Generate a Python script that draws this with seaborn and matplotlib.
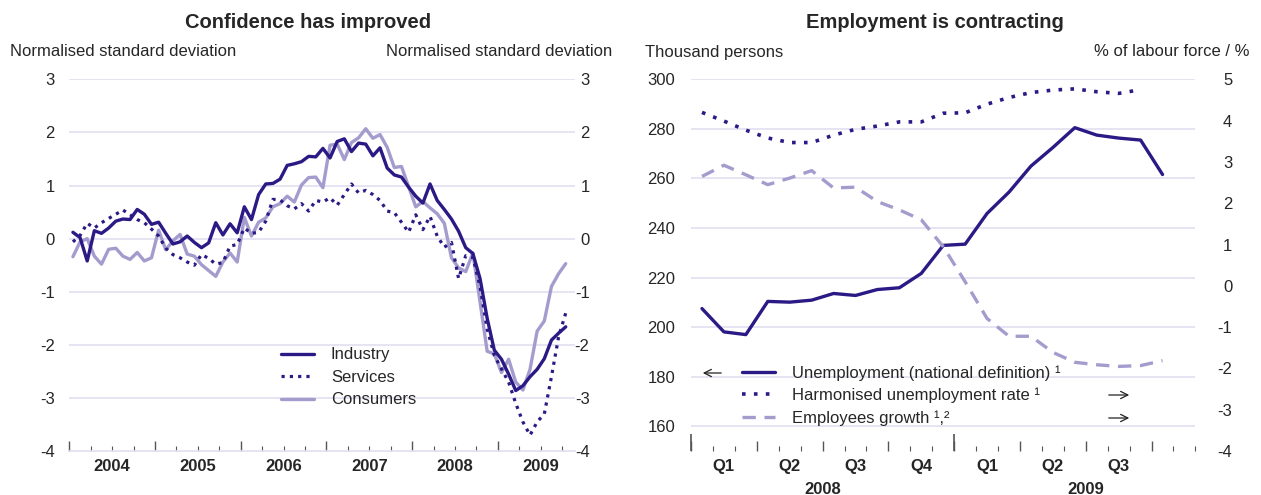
import numpy as np
import pandas as pd
import matplotlib
matplotlib.use("Agg")
import matplotlib.pyplot as plt
import seaborn as sns

# ---------------------------------------------------------------
# Datos: confianza (mensual, ene-2004 a oct-2009)
# ---------------------------------------------------------------
industry = [0.12, 0.02, -0.42, 0.15, 0.10, 0.20, 0.33, 0.37, 0.36, 0.55,
            0.46, 0.27, 0.31, 0.10, -0.10, -0.06, 0.05, -0.07, -0.17, -0.08,
            0.30, 0.07, 0.28, 0.11, 0.60, 0.36, 0.83, 1.03, 1.04, 1.12,
            1.38, 1.41, 1.45, 1.55, 1.54, 1.70, 1.52, 1.83, 1.88, 1.64,
            1.80, 1.78, 1.56, 1.71, 1.33, 1.20, 1.16, 0.97, 0.80, 0.67,
            1.03, 0.72, 0.55, 0.37, 0.14, -0.17, -0.28, -0.75, -1.50, -2.10,
            -2.27, -2.55, -2.86, -2.77, -2.60, -2.46, -2.26, -1.91, -1.78, -1.66]
services = [-0.06, 0.06, 0.29, 0.20, 0.30, 0.38, 0.46, 0.54, 0.45, 0.36,
            0.30, 0.18, 0.05, -0.18, -0.30, -0.36, -0.44, -0.50, -0.30, -0.37,
            -0.48, -0.45, -0.14, -0.11, 0.20, 0.10, 0.12, 0.33, 0.74, 0.73,
            0.62, 0.56, 0.66, 0.52, 0.72, 0.69, 0.77, 0.63, 0.83, 1.03,
            0.86, 0.91, 0.83, 0.72, 0.52, 0.49, 0.31, 0.12, 0.45, 0.17,
            0.42, 0.05, -0.16, -0.07, -0.75, -0.32, -0.35, -0.90, -1.70, -2.20,
            -2.45, -2.70, -3.10, -3.45, -3.70, -3.45, -3.30, -2.60, -1.85, -1.40]
consumers = [-0.34, -0.06, 0.00, -0.33, -0.48, -0.20, -0.18, -0.33, -0.39, -0.26,
             -0.42, -0.36, 0.16, -0.21, -0.04, 0.08, -0.29, -0.33, -0.49, -0.60,
             -0.71, -0.44, -0.27, -0.44, 0.40, 0.05, 0.31, 0.39, 0.60, 0.66,
             0.80, 0.69, 1.01, 1.15, 1.16, 0.96, 1.76, 1.78, 1.49, 1.81,
             1.90, 2.07, 1.89, 1.96, 1.72, 1.34, 1.36, 0.98, 0.60, 0.70,
             0.58, 0.47, 0.29, -0.36, -0.55, -0.62, -0.27, -1.19, -2.12, -2.17,
             -2.52, -2.27, -2.70, -2.85, -2.46, -1.74, -1.55, -0.90, -0.66, -0.47]
conf_years = [2004, 2005, 2006, 2007, 2008, 2009]

# ---------------------------------------------------------------
# Datos: empleo (mensual, ene-2008 a oct-2009)
# ---------------------------------------------------------------
unemployment = [207.5, 198.1, 197.0, 210.4, 210.1, 210.9, 213.6, 212.8, 215.2, 215.9,
                221.7, 233.0, 233.5, 245.9, 254.5, 265.0, 272.5, 280.5, 277.5, 276.3,
                275.5, 261.6]
harmonised = [4.20, 3.99, 3.77, 3.58, 3.47, 3.47, 3.65, 3.79, 3.87, 3.97,
              3.97, 4.18, 4.19, 4.40, 4.56, 4.68, 4.74, 4.77, 4.70, 4.66,
              4.75]
employees = [2.65, 2.92, 2.69, 2.45, 2.61, 2.79, 2.37, 2.39, 2.04, 1.84,
             1.60, 0.95, 0.10, -0.79, -1.22, -1.22, -1.61, -1.85, -1.91, -1.95,
             -1.93, -1.81]
quarter_labels = ["Q1", "Q2", "Q3", "Q4", "Q1", "Q2", "Q3"]
emp_years = [2008, 2009]

# Posición temporal: mitad de cada mes en años decimales
def month_axis(start_year, n):
    return start_year + (np.arange(n) + 0.5) / 12.0

df_conf = pd.DataFrame({"t": month_axis(2004, len(industry)),
                        "industry": industry, "services": services,
                        "consumers": consumers})
df_emp = pd.DataFrame({"t": month_axis(2008, len(unemployment)),
                       "unemployment": unemployment,
                       "employees": employees})
df_harm = pd.DataFrame({"t": month_axis(2008, len(harmonised)),
                        "harmonised": harmonised})

# ---------------------------------------------------------------
# Estilo
# ---------------------------------------------------------------
sns.set_style("white")
plt.rcParams["font.family"] = ["Liberation Sans", "DejaVu Sans"]
plt.rcParams["axes.unicode_minus"] = False
DARK = "#2b1a85"
LIGHT = "#a59cce"
GRID = "#e2dff0"
TICK = "#555555"
FS = 12

fig = plt.figure(figsize=(12.61, 4.95), dpi=100)
ax1 = fig.add_axes([0.055, 0.0887, 0.401, 0.751])
ax2 = fig.add_axes([0.548, 0.0887, 0.400, 0.751])

# ---------------------------------------------------------------
# Gráfico 1: confianza
# ---------------------------------------------------------------
sns.lineplot(data=df_conf, x="t", y="industry", ax=ax1, color=DARK, lw=2.4,
             label="Industry", zorder=3)
sns.lineplot(data=df_conf, x="t", y="services", ax=ax1, color=DARK, lw=2.3,
             linestyle=(0, (1, 1.6)), label="Services", zorder=3)
sns.lineplot(data=df_conf, x="t", y="consumers", ax=ax1, color=LIGHT, lw=2.4,
             label="Consumers", zorder=2)

ax1.set_xlim(2004, 2009.9)
ax1.set_ylim(-4, 3)
ax1.set_yticks(range(-4, 4))
ax1.set_xlabel("")
ax1.set_ylabel("")
for v in range(-3, 4):
    ax1.axhline(v, color=GRID, lw=1.2, zorder=0)
for s in ["top", "left", "right"]:
    ax1.spines[s].set_visible(False)
ax1.spines["bottom"].set_color(GRID)
ax1.spines["bottom"].set_linewidth(1.2)

ax1.set_xticks(conf_years)
ax1.set_xticks(np.arange(2004, 2010, 0.25), minor=True)
ax1.tick_params(axis="x", which="major", bottom=True, direction="in", length=7,
                width=1, color=TICK, labelbottom=False)
ax1.tick_params(axis="x", which="minor", bottom=True, direction="in", length=3.5,
                width=0.8, color=TICK)
ax1.tick_params(axis="y", left=False, right=False, labelleft=True,
                labelright=True, labelsize=FS, pad=7)
# las etiquetas de la derecha alineadas a la derecha
for t in ax1.yaxis.get_major_ticks():
    t.label2.set_horizontalalignment("right")
ax1.tick_params(axis="y", which="major", pad=7)

# etiquetas de años centradas
sec1 = ax1.secondary_xaxis(0)
sec1.set_xticks([y + 0.5 for y in conf_years], [str(y) for y in conf_years])
sec1.tick_params(length=0, pad=6, labelsize=FS)
for lab in sec1.get_xticklabels():
    lab.set_fontweight("bold")
sec1.spines["bottom"].set_visible(False)

leg1 = ax1.legend(loc="upper left", bbox_to_anchor=(0.2228, 0.298),
                  bbox_transform=fig.transFigure, frameon=False, fontsize=FS,
                  handlelength=2.0, handletextpad=1.0, labelspacing=0.45,
                  borderpad=0, borderaxespad=0)

# ---------------------------------------------------------------
# Gráfico 2: empleo (doble eje)
# ---------------------------------------------------------------
ax2r = ax2.twinx()
sns.lineplot(data=df_emp, x="t", y="unemployment", ax=ax2, color=DARK, lw=2.4,
             legend=False, zorder=3)
sns.lineplot(data=df_harm, x="t", y="harmonised", ax=ax2r, color=DARK, lw=2.6,
             linestyle=(0, (1, 2.3)), legend=False)
sns.lineplot(data=df_emp, x="t", y="employees", ax=ax2r, color=LIGHT, lw=2.4,
             linestyle=(0, (4, 2.6)), legend=False)

ax2.set_xlim(2008, 2009 + 10 / 12)
ax2.set_ylim(150, 300)
ax2r.set_ylim(-4, 5)
ax2.set_yticks(range(160, 301, 20))
ax2r.set_yticks(range(-4, 6))
for v in range(160, 301, 20):
    ax2.axhline(v, color=GRID, lw=1.2, zorder=0)
for a in (ax2, ax2r):
    for s in ["top", "left", "right", "bottom"]:
        a.spines[s].set_visible(False)
    a.set_xlabel("")
    a.set_ylabel("")
ax2.tick_params(axis="y", left=False, labelsize=FS, pad=8)
ax2r.tick_params(axis="y", right=False, labelsize=FS, pad=23)
for t in ax2r.yaxis.get_major_ticks():
    t.label2.set_horizontalalignment("right")

# ticks mensuales / trimestrales / anuales
ax2.set_xticks(np.arange(2008, 2010, 0.25))
ax2.set_xticks(np.arange(2008, 2010, 1 / 12), minor=True)
ax2.tick_params(axis="x", which="major", bottom=True, direction="in", length=7,
                width=1, color=TICK, labelbottom=False)
ax2.tick_params(axis="x", which="minor", bottom=True, direction="in", length=3.5,
                width=0.8, color=TICK)
sec2 = ax2.secondary_xaxis(0)
sec2.set_xticks(emp_years)
sec2.set_xticks([2008.125 + 0.25 * k for k in range(len(quarter_labels))],
                quarter_labels, minor=True)
sec2.tick_params(which="major", bottom=True, direction="in", length=12,
                 width=1.2, color=TICK, labelbottom=False)
sec2.tick_params(which="minor", length=0, pad=6, labelsize=FS)
for lab in sec2.get_xticklabels(minor=True):
    lab.set_fontweight("bold")
sec2.spines["bottom"].set_visible(False)
sec3 = ax2.secondary_xaxis(0)
sec3.set_xticks([y + 0.5 for y in emp_years], [str(y) for y in emp_years])
sec3.tick_params(length=0, pad=22, labelsize=FS)
for lab in sec3.get_xticklabels():
    lab.set_fontweight("bold")
sec3.spines["bottom"].set_visible(False)

h = [plt.Line2D([], [], color=DARK, lw=2.4),
     plt.Line2D([], [], color=DARK, lw=2.6, linestyle=(0, (1, 2.3))),
     plt.Line2D([], [], color=LIGHT, lw=2.4, linestyle=(0, (4, 2.6)))]
labels = ["Unemployment (national definition) \u00b9",
          "Harmonised unemployment rate \u00b9",
          "Employees growth \u00b9,\u00b2"]
ax2r.legend(h, labels, loc="upper left", bbox_to_anchor=(0.5884, 0.262),
            bbox_transform=fig.transFigure, frameon=False, fontsize=FS,
            handlelength=2.0, handletextpad=1.0, labelspacing=0.42,
            borderpad=0, borderaxespad=0)

# flechas que indican el eje
arrow = dict(arrowstyle="->", lw=0.9, color="#222222", mutation_scale=13)
fig.add_artist(plt.Annotation("", xy=(700 / 1261, 1 - 373 / 495),
                              xytext=(724 / 1261, 1 - 373 / 495),
                              xycoords="figure fraction", arrowprops=arrow))
for yy in (395, 418):
    fig.add_artist(plt.Annotation("", xy=(1132 / 1261, 1 - yy / 495),
                                  xytext=(1106 / 1261, 1 - yy / 495),
                                  xycoords="figure fraction", arrowprops=arrow))

# ---------------------------------------------------------------
# Títulos y unidades
# ---------------------------------------------------------------
fig.text(308 / 1261, 1 - 22 / 495, "Confidence has improved", ha="center",
         va="center", fontsize=14.5, fontweight="bold")
fig.text(935 / 1261, 1 - 22 / 495, "Employment is contracting", ha="center",
         va="center", fontsize=14.5, fontweight="bold")
fig.text(10 / 1261, 1 - 52 / 495, "Normalised standard deviation", ha="left",
         va="center", fontsize=FS)
fig.text(612 / 1261, 1 - 52 / 495, "Normalised standard deviation", ha="right",
         va="center", fontsize=FS)
fig.text(645 / 1261, 1 - 52 / 495, "Thousand persons", ha="left",
         va="center", fontsize=FS)
fig.text(1250 / 1261, 1 - 52 / 495, "% of labour force / %", ha="right",
         va="center", fontsize=FS)

fig.savefig("out.png", dpi=100)
